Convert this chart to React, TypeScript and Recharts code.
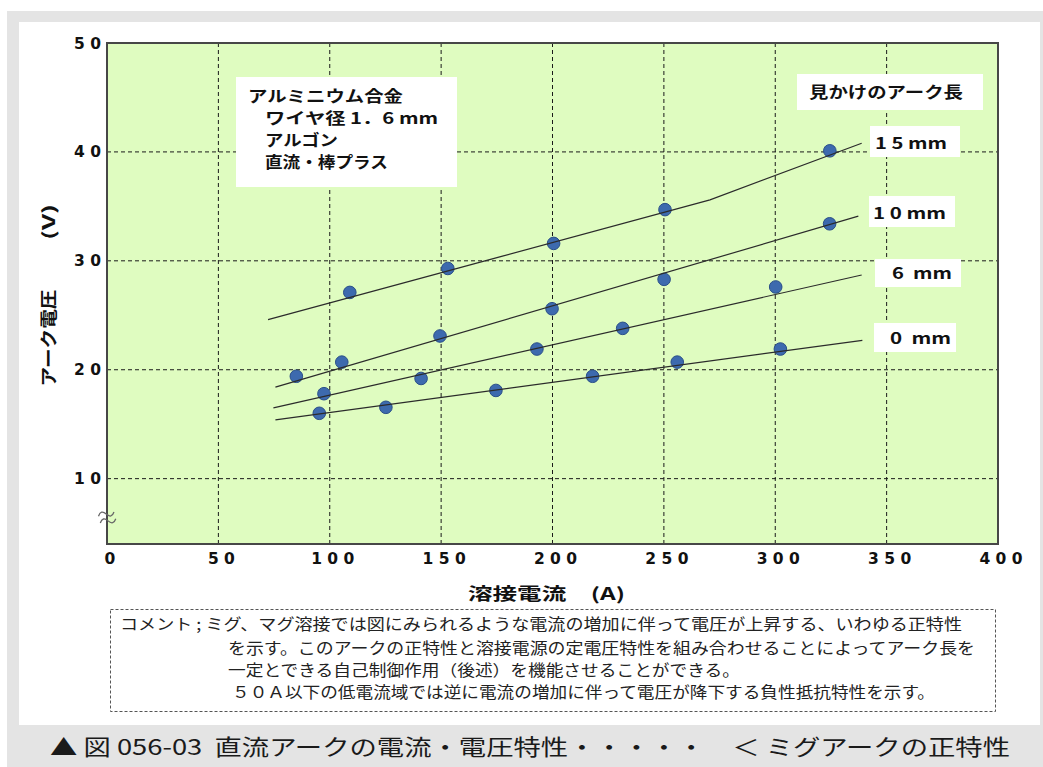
import React from "react";
import { ComposedChart, Scatter, XAxis, YAxis, CartesianGrid } from "recharts";

const xTicks = [0, 50, 100, 150, 200, 250, 300, 350, 400];
const yTicks = [10, 20, 30, 40, 50];

// 測定点（見かけのアーク長ごと）
const arc15X = [109, 153, 200.5, 250.5, 324.5];
const arc15Y = [27.1, 29.3, 31.6, 34.7, 40.1];
const arc10X = [85, 105.4, 149.5, 199.8, 250.1, 324.4];
const arc10Y = [19.4, 20.7, 23.1, 25.6, 28.3, 33.4];
const arc6X = [97.4, 141, 193, 231.5, 300.2];
const arc6Y = [17.8, 19.2, 21.9, 23.8, 27.6];
const arc0X = [95.3, 125.2, 174.6, 218, 256, 302.3];
const arc0Y = [16.0, 16.55, 18.1, 19.4, 20.7, 21.9];

// 近似線
const fit15X = [72.3, 270.7, 338.8];
const fit15Y = [24.6, 35.6, 40.8];
const fit10X = [75.6, 337.3];
const fit10Y = [18.4, 34.1];
const fit6X = [74.7, 338.8];
const fit6Y = [16.5, 28.7];
const fit0X = [75.6, 339.1];
const fit0Y = [15.4, 22.7];

const arcLabels = ["1 5 mm", "1 0 mm", "6  mm", "0  mm"];

const toPts = (xs: number[], ys: number[]) => xs.map((x, i) => ({ x, y: ys[i] }));

const pointSets = [toPts(arc15X, arc15Y), toPts(arc10X, arc10Y), toPts(arc6X, arc6Y), toPts(arc0X, arc0Y)];
const fitSets = [toPts(fit15X, fit15Y), toPts(fit10X, fit10Y), toPts(fit6X, fit6Y), toPts(fit0X, fit0Y)];

const tickFont = { fontFamily: "'DejaVu Sans', sans-serif", fontWeight: 700, fontSize: 15.5, fill: "#111" };
const jpFont = "'Noto Sans CJK JP', sans-serif";

const spaced = (v: number) => String(v).split("").join(" ");

function XTick(props: any) {
  const { x, y, payload } = props;
  return (
    <text x={x + 3} y={y} dy={14} textAnchor="middle" {...tickFont}>
      {spaced(payload.value)}
    </text>
  );
}

function YTick(props: any) {
  const { x, y, payload } = props;
  return (
    <text x={x} y={y} dy="0.36em" textAnchor="end" {...tickFont}>
      {spaced(payload.value)}
    </text>
  );
}

const Dot = (p: any) => <circle cx={p.cx} cy={p.cy} r={6.3} fill="#3d6aae" stroke="#2a4f88" strokeWidth={1} />;
const NoShape = () => <g />;

function Box({ x, y, w, h }: { x: number; y: number; w: number; h: number }) {
  return <rect x={x} y={y} width={w} height={h} fill="#fff" />;
}

function T(props: any) {
  const { children, bold = true, size = 15.5, ...rest } = props;
  return (
    <text
      fontFamily={jpFont}
      fontWeight={bold ? 700 : 400}
      fontSize={size}
      fill="#111"
      dominantBaseline="central"
      lengthAdjust="spacingAndGlyphs"
      style={{ whiteSpace: "pre" }}
      {...rest}
    >
      {children}
    </text>
  );
}

export default function App() {
  return (
    <div style={{ position: "absolute", left: 0, top: 0, width: 1043, height: 767, background: "#fff", overflow: "hidden" }}>
      <div style={{ position: "absolute", left: 7, top: 11, width: 1036, height: 756, background: "#e4e4e4" }} />
      <div style={{ position: "absolute", left: 19, top: 22, width: 1021, height: 703, background: "#fff" }} />

      <div style={{ position: "absolute", left: 0, top: 0 }}>
        <ComposedChart width={1043} height={620} margin={{ top: 43, right: 45, bottom: 36, left: 47 }}>
          <CartesianGrid stroke="#1a1a1a" strokeDasharray="4 3" fill="#dffcc0" fillOpacity={1} />
          <XAxis
            type="number"
            dataKey="x"
            domain={[0, 400]}
            ticks={xTicks}
            interval={0}
            axisLine={false}
            tickLine={false}
            tickSize={6}
            tickMargin={0}
            height={40}
            tick={<XTick />}
            allowDataOverflow
          />
          <YAxis
            type="number"
            dataKey="y"
            domain={[4, 50]}
            ticks={yTicks}
            interval={0}
            axisLine={false}
            tickLine={false}
            tickSize={6}
            tickMargin={0}
            width={60}
            tick={<YTick />}
            allowDataOverflow
          />
          {pointSets.map((d, i) => (
            <Scatter key={"p" + i} data={d} shape={Dot} isAnimationActive={false} />
          ))}
          {fitSets.map((d, i) => (
            <Scatter
              key={"f" + i}
              data={d}
              shape={NoShape}
              line={{ stroke: "#2b2b2b", strokeWidth: 1.2 }}
              isAnimationActive={false}
            />
          ))}
        </ComposedChart>
      </div>

      <div
        style={{
          position: "absolute",
          left: 106,
          top: 42,
          width: 893,
          height: 503,
          border: "2px solid #474747",
          boxSizing: "border-box",
          pointerEvents: "none",
        }}
      />

      <svg width={1043} height={767} style={{ position: "absolute", left: 0, top: 0, pointerEvents: "none" }}>
        <Box x={236} y={77} w={221} h={110} />
        <T x={248} y={95} textLength={155}>アルミニウム合金</T>
        <T x={265} y={117} textLength={173}>ワイヤ径 1．6 mm</T>
        <T x={265} y={139} textLength={73}>アルゴン</T>
        <T x={265} y={161} textLength={123}>直流・棒プラス</T>

        <Box x={797} y={74} w={186} h={36} />
        <T x={809} y={91} textLength={154}>見かけのアーク長</T>

        <Box x={870} y={126} w={90} h={31} />
        <T x={875} y={141.5} textLength={72}>{arcLabels[0]}</T>
        <Box x={869} y={196} w={86} h={31} />
        <T x={873} y={211.5} textLength={73}>{arcLabels[1]}</T>
        <Box x={875} y={259} w={86} h={28} />
        <T x={892} y={271.5} textLength={60}>{arcLabels[2]}</T>
        <Box x={874} y={323} w={82} h={29} />
        <T x={890} y={336.5} textLength={61}>{arcLabels[3]}</T>

        {/* 軸の省略記号 */}
        <g transform="rotate(-15 107 517)" fill="none" stroke="#666" strokeWidth={1.3}>
          <path d="M99 514 q4 -6 8 0 t8 0" />
          <path d="M99 521 q4 -6 8 0 t8 0" />
        </g>

        <T size={17} x={0} y={0} transform="translate(47 338) rotate(-90)" textAnchor="middle" textLength={97}>アーク電圧</T>
        <T size={17} x={0} y={0} transform="translate(47 222) rotate(-90)" textAnchor="middle" textLength={36}>(V)</T>

        <T size={17} x={468} y={592} textLength={157}>溶接電流　(A)</T>

        <rect x={110.5} y={609.5} width={885} height={102} fill="none" stroke="#555" strokeDasharray="3 2" strokeWidth={1} />
        <T bold={false} size={15.5} x={120} y={623} textLength={842} fill="#222">コメント ; ミグ、マグ溶接では図にみられるような電流の増加に伴って電圧が上昇する、いわゆる正特性</T>
        <T bold={false} size={15.5} x={228} y={647} textLength={747} fill="#222">を示す。このアークの正特性と溶接電源の定電圧特性を組み合わせることによってアーク長を</T>
        <T bold={false} size={15.5} x={228} y={669} textLength={512} fill="#222">一定とできる自己制御作用（後述）を機能させることができる。</T>
        <T bold={false} size={15.5} x={232} y={691} textLength={703} fill="#222">５０Ａ以下の低電流域では逆に電流の増加に伴って電圧が降下する負性抵抗特性を示す。</T>

        <T bold={false} size={22} x={50} y={745} textLength={960} fill="#1a1a1a">▲ 図 056-03  直流アークの電流・電圧特性・・・・・　＜ ミグアークの正特性</T>
      </svg>
    </div>
  );
}
